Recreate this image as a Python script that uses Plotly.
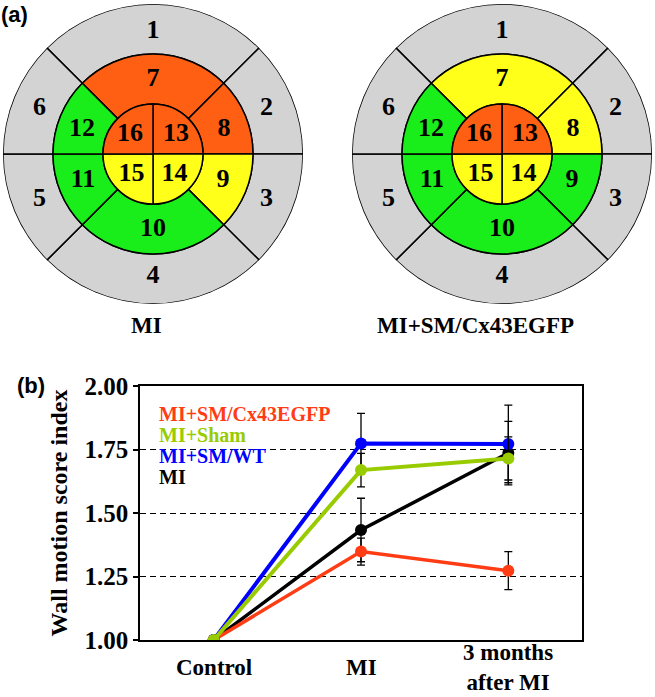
import plotly.graph_objects as go

# ---------------- Panel (a): 16-segment bullseye data ----------------
segment_ids = list(range(1, 17))
wall_state_mi = ["n/a"] * 6 + [
    "akinetic", "akinetic", "hypokinetic", "normal", "normal", "normal",
    "akinetic", "hypokinetic", "hypokinetic", "akinetic"]
wall_state_cx43 = ["n/a"] * 6 + [
    "hypokinetic", "hypokinetic", "normal", "normal", "normal", "normal",
    "akinetic", "hypokinetic", "hypokinetic", "akinetic"]
bullseye_titles = ["MI", "MI+SM/Cx43EGFP"]
state_colors = {"n/a": "#d3d3d3", "normal": "#1aee1a",
                "hypokinetic": "#ffff1a", "akinetic": "#ff5f12"}

# ---------------- Panel (b): wall motion score index ----------------
timepoints = ["Control", "MI", "3 months after MI"]
timepoint_labels = ["Control", "MI", "3 months<br>after MI"]
series_names = ["MI+SM/Cx43EGFP", "MI+Sham", "MI+SM/WT", "MI"]
wmsi_cx43 = [1.00, 1.348, 1.273]
err_cx43 = [None, 0.053, 0.075]
wmsi_sham = [1.00, 1.669, 1.715]
err_sham = [None, 0.066, 0.085]
wmsi_wt = [1.00, 1.774, 1.772]
err_wt = [None, 0.118, 0.153]
wmsi_mi = [1.00, 1.433, 1.736]
err_mi = [None, 0.125, 0.125]
y_ticks = [1.00, 1.25, 1.50, 1.75, 2.00]

# ---------------- styling / geometry ----------------
W, H = 655, 697
SERIF = "Liberation Serif, Times New Roman, serif"
SANS = "Liberation Sans, Arial, sans-serif"
series_colors = ["#ff3c14", "#99cc00", "#0000ff", "#000000"]
series_widths = [3.5, 4, 4, 3.5]

# bullseye layout: ring base radius, angular centre and angular width
seg_base = [2] * 6 + [1] * 6 + [0] * 4
seg_theta = [90, 22.5, -22.5, 270, 202.5, 157.5,
             90, 22.5, -22.5, 270, 202.5, 157.5,
             45, 315, 225, 135]
seg_width = [90, 45, 45, 90, 45, 45, 90, 45, 45, 90, 45, 45, 90, 90, 90, 90]
label_r = [2.45] * 6 + [1.5] * 6 + [0.6] * 4
label_theta = [90, 22, -22, 270, 202, 158,
               90, 19, -21, 270, 201, 161,
               40, 316, 224, 140]


def px_x(x):
    return x / W


def px_y(y):
    return 1 - y / H


fig = go.Figure()

# ---- bullseyes ----
for k, states in enumerate([wall_state_mi, wall_state_cx43]):
    sub = "polar" if k == 0 else "polar2"
    fig.add_trace(go.Barpolar(
        r=[1] * len(segment_ids), base=seg_base, theta=seg_theta, width=seg_width,
        marker=dict(color=[state_colors[s] for s in states],
                    line=dict(color="black", width=1.5)),
        subplot=sub, hoverinfo="skip", showlegend=False))
    fig.add_trace(go.Scatterpolar(
        r=label_r, theta=label_theta, mode="text",
        text=["<b>%d</b>" % s for s in segment_ids],
        textposition="middle center",
        textfont=dict(family=SERIF, size=26, color="black"),
        subplot=sub, hoverinfo="skip", showlegend=False))

polar_common = dict(
    bgcolor="rgba(0,0,0,0)", hole=0, bargap=0,
    radialaxis=dict(visible=False, range=[0, 3]),
    angularaxis=dict(visible=False, rotation=0, direction="counterclockwise"))

# ---- line chart ----
values = [wmsi_cx43, wmsi_sham, wmsi_wt, wmsi_mi]
errors = [err_cx43, err_sham, err_wt, err_mi]
draw_order = [3, 0, 2, 1]
for i in draw_order:
    fig.add_trace(go.Scatter(
        x=timepoints, y=values[i], name=series_names[i], mode="lines+markers",
        line=dict(color=series_colors[i], width=series_widths[i]),
        marker=dict(color=series_colors[i], size=12),
        error_y=dict(type="data", array=errors[i], color="black",
                     thickness=1.3, width=4),
        xaxis="x", yaxis="y", showlegend=False))


def note(text, x, y, size, family=SERIF, color="black", xanchor="center", xref="paper"):
    return dict(text=text, x=x, y=y, xref=xref, yref="paper", xanchor=xanchor,
                yanchor="middle", showarrow=False,
                font=dict(family=family, size=size, color=color))


annotations = [
    note("<b>(a)</b>", px_x(14), px_y(14), 22, family=SANS),
    note("<b>(b)</b>", px_x(31), px_y(385), 22, family=SANS),
]
for t, cx in zip(bullseye_titles, [146, 475]):
    annotations.append(note("<b>%s</b>" % t, px_x(cx), px_y(325), 23))
for j, (nm, col) in enumerate(zip(series_names, series_colors)):
    annotations.append(note("<b>%s</b>" % nm, px_x(157), px_y(414 + 21 * j), 20,
                            color=col, xanchor="left"))
for cat, lab in zip(timepoints, timepoint_labels):
    annotations.append(note("<b>%s</b>" % lab, cat, px_y(667), 23, xref="x"))

fig.update_layout(
    width=W, height=H, margin=dict(l=0, r=0, t=0, b=0),
    paper_bgcolor="white", plot_bgcolor="white", showlegend=False,
    polar=dict(domain=dict(x=[px_x(3), px_x(303)], y=[px_y(304), px_y(4)]), **polar_common),
    polar2=dict(domain=dict(x=[px_x(352), px_x(652)], y=[px_y(304), px_y(4)]), **polar_common),
    xaxis=dict(domain=[px_x(140), px_x(582)], type="category", categoryarray=timepoints,
               range=[-0.5, 2.5], showline=True, mirror=True, linecolor="black",
               linewidth=1.5, ticks="", showticklabels=False, showgrid=False,
               zeroline=False, automargin=False, fixedrange=True),
    yaxis=dict(domain=[px_y(640), px_y(386)], range=[1, 2], tickvals=y_ticks,
               tickformat=".2f", ticks="outside", ticklen=5, tickwidth=1.5,
               tickcolor="black", showline=True, mirror=True, linecolor="black",
               linewidth=1.5, showgrid=True, gridcolor="black", gridwidth=1.2,
               griddash="6px,4px", zeroline=False, automargin=False, fixedrange=True,
               tickfont=dict(family=SERIF, size=25, color="black", weight="bold"),
               title=dict(text="Wall motion score index", standoff=10,
                          font=dict(family=SERIF, size=24, color="black", weight="bold"))),
    annotations=annotations,
)

# the page's default 8px body margin would shift the figure; remove it
fig.write_html("out.html", config={"displayModeBar": False},
               post_script="document.body.style.margin='0px';")
